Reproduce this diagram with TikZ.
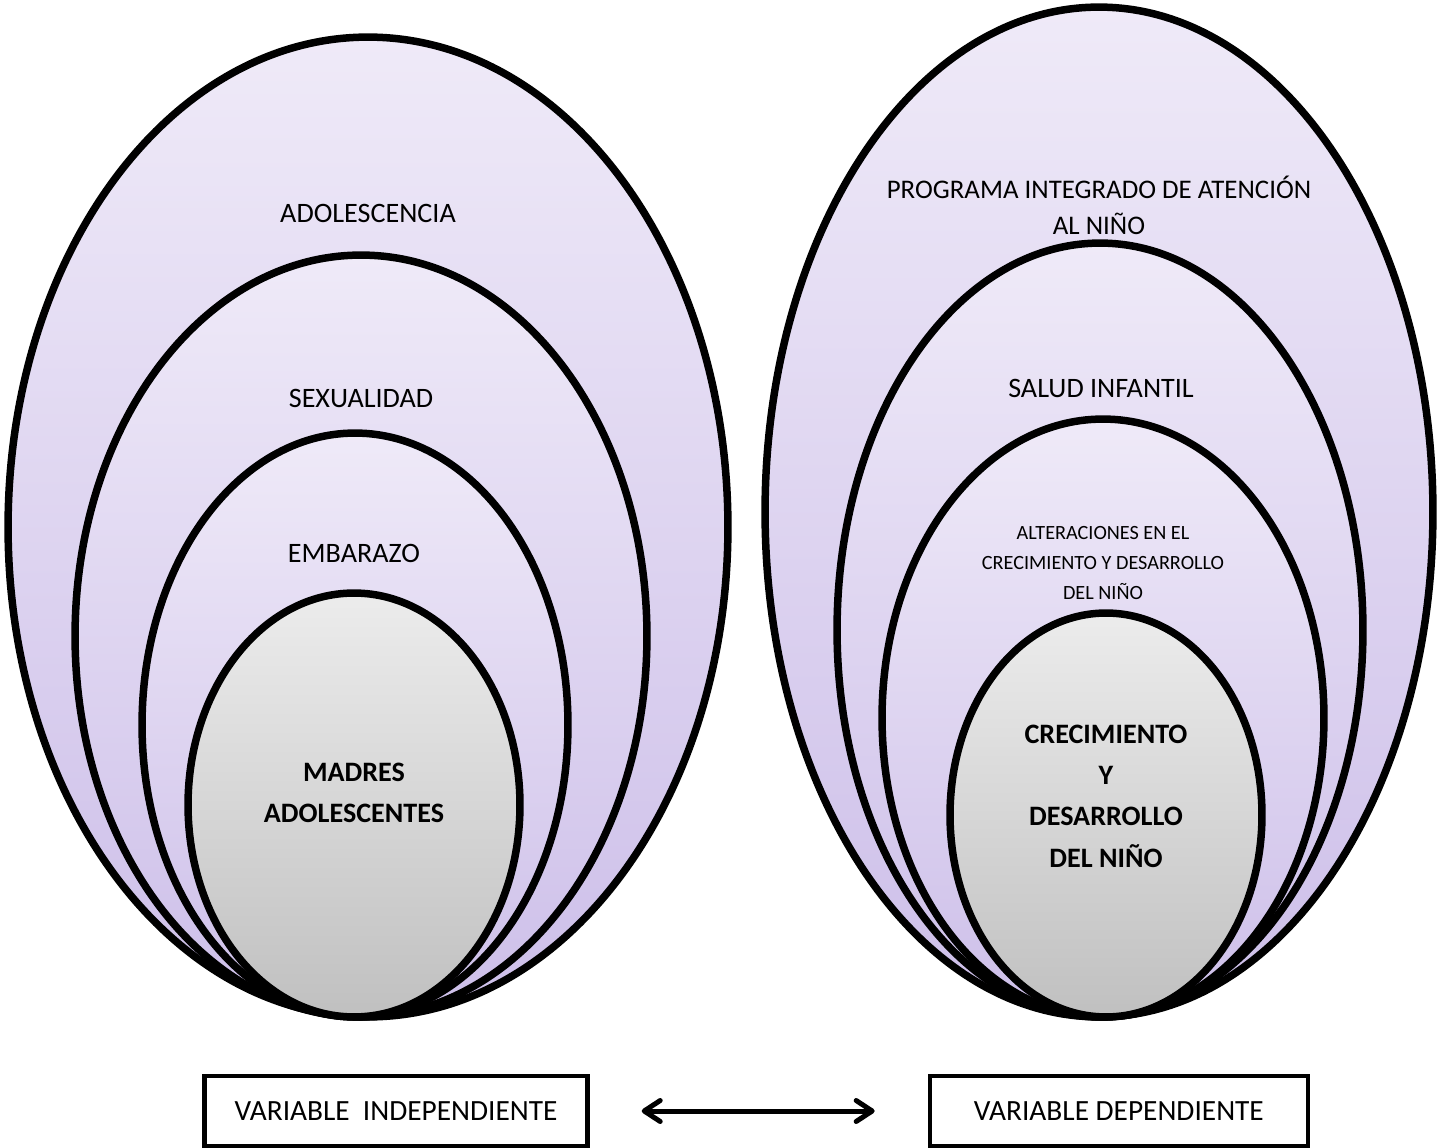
\documentclass[tikz,border=0pt]{standalone}
\usepackage{fontspec}
\setmainfont{Carlito}
\usetikzlibrary{shapes.geometric,positioning,arrows.meta}
\definecolor{lilaTop}{HTML}{EFEAF8}
\definecolor{lilaBot}{HTML}{CDBFE9}
\definecolor{grisTop}{HTML}{ECECEC}
\definecolor{grisBot}{HTML}{C0C0C0}

\begin{document}
\begin{tikzpicture}[x=0.02cm,y=-0.02cm,
    capa/.style={ellipse, draw, line width=0.15cm, inner sep=0pt,
        top color=lilaTop, bottom color=lilaBot},
    nucleo/.style={capa, top color=grisTop, bottom color=grisBot},
    rotulo/.style={font=\fontsize{16}{21}\selectfont, align=center},
    chico/.style={font=\fontsize{11.5}{17}\selectfont, align=center},
    fuerte/.style={font=\fontsize{16}{23.5}\selectfont\bfseries, align=center},
    caja/.style={draw, line width=0.09cm, minimum height=1.4cm, inner sep=0pt,
        font=\fontsize{16.7}{19}\selectfont}]
    \useasboundingbox (0,0) rectangle (1437,1148);
    % variable independiente
    \node[capa, minimum width=14.4cm, minimum height=19.6cm] (adol) at (368,527) {};
    \node[capa, minimum width=11.44cm, minimum height=15.24cm] (sexu) at (361,636) {};
    \node[capa, minimum width=8.52cm, minimum height=11.68cm] (emba) at (355,725) {};
    \node[nucleo, minimum width=6.64cm, minimum height=8.48cm] (madres) at (354,805) {};
    % variable dependiente
    \node[capa, minimum width=13.36cm, minimum height=20.2cm] (prog) at (1099,512) {};
    \node[capa, minimum width=10.52cm, minimum height=15.48cm] (salud) at (1100,630) {};
    \node[capa, minimum width=8.84cm, minimum height=11.96cm] (alter) at (1103,718) {};
    \node[nucleo, minimum width=6.24cm, minimum height=8.08cm] (crec) at (1106,815) {};
    % textos
    \node[rotulo] (t_adol) at (368,213) {ADOLESCENCIA};
    \node[rotulo] (t_sexu) at (361,398) {SEXUALIDAD};
    \node[rotulo] (t_emba) at (354,553) {EMBARAZO};
    \node[fuerte] (t_madres) at (354,793) {MADRES\\ADOLESCENTES};
    \node[rotulo, font=\fontsize{15.3}{20.5}\selectfont] (t_prog) at (1099,205) {PROGRAMA INTEGRADO DE ATENCIÓN\\AL NIÑO};
    \node[rotulo] (t_salud) at (1101,388) {SALUD INFANTIL};
    \node[chico] (t_alter) at (1103,563) {ALTERACIONES EN EL\\CRECIMIENTO Y DESARROLLO\\DEL NIÑO};
    \node[fuerte] (t_crec) at (1106,796) {CRECIMIENTO\\Y\\DESARROLLO\\DEL NIÑO};
    % variables
    \node[caja, minimum width=7.66cm] (indep) at (396,1111) {VARIABLE\ \ INDEPENDIENTE};
    \node[caja, minimum width=7.56cm, right=6.76cm of indep] (dep) {VARIABLE DEPENDIENTE};
    \draw[{Straight Barb[length=0.32cm,width=0.42cm,round]}-{Straight Barb[length=0.32cm,width=0.42cm,round]},
        line width=0.1cm, shorten <=1.04cm, shorten >=1.06cm] (indep) -- (dep);
\end{tikzpicture}
\end{document}
